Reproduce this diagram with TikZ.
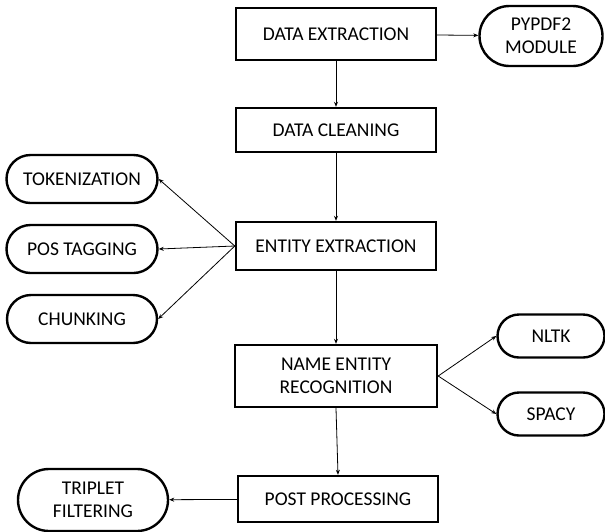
\documentclass[tikz,border=0pt]{standalone}
\usepackage{fontspec}
\setmainfont{Carlito}
\usetikzlibrary{shapes.misc,arrows.meta}
\begin{document}
\begin{tikzpicture}[x=1pt,y=-1pt,
  box/.style={draw, line width=2.4pt, rectangle, minimum width=200pt, align=center, inner sep=0pt, font=\fontsize{19.5}{23}\selectfont},
  pill/.style={draw, line width=2.4pt, rounded rectangle, align=center, inner sep=0pt, font=\fontsize{19.5}{23}\selectfont},
  conn/.style={line width=0.8pt, -{Stealth[length=5pt,width=4pt]}}]
\useasboundingbox (0,0) rectangle (605,531);
\node[box, minimum height=52pt] (de) at (336,34) {DATA EXTRACTION};
\node[pill, minimum width=123pt, minimum height=60pt] (py) at (541,36) {PYPDF2\\MODULE};
\node[box, minimum height=44pt] (dc) at (336,130) {DATA CLEANING};
\node[box, minimum height=48pt] (ee) at (336,246) {ENTITY EXTRACTION};
\node[pill, minimum width=151pt, minimum height=48pt] (tok) at (82,179) {TOKENIZATION};
\node[pill, minimum width=151pt, minimum height=48pt] (pos) at (82,249) {POS TAGGING};
\node[pill, minimum width=150pt, minimum height=48pt] (chu) at (82,319) {CHUNKING};
\node[box, minimum width=202pt, minimum height=62pt] (ner) at (336,376) {NAME ENTITY\\RECOGNITION};
\node[pill, minimum width=107pt, minimum height=43pt] (nl) at (551,336) {NLTK};
\node[pill, minimum width=107pt, minimum height=43pt] (sp) at (551,414) {SPACY};
\node[box, minimum height=46pt] (pp) at (338,499) {POST PROCESSING};
\node[pill, minimum width=150pt, minimum height=62pt] (tf) at (93,500) {TRIPLET\\FILTERING};
\draw[conn] (de) -- (py);
\draw[conn] (de) -- (dc);
\draw[conn] (dc.south) -- (ee.north);
\draw[conn] (ee.west) -- (tok.east);
\draw[conn] (ee.west) -- (pos.east);
\draw[conn] (ee.west) -- (chu.east);
\draw[conn] (ee.south) -- (ner.north);
\draw[conn] (ner.east) -- (nl.west);
\draw[conn] (ner.east) -- (sp.west);
\draw[conn] (ner.south) -- (pp.north);
\draw[conn] (pp) -- (tf);
\end{tikzpicture}
\end{document}
